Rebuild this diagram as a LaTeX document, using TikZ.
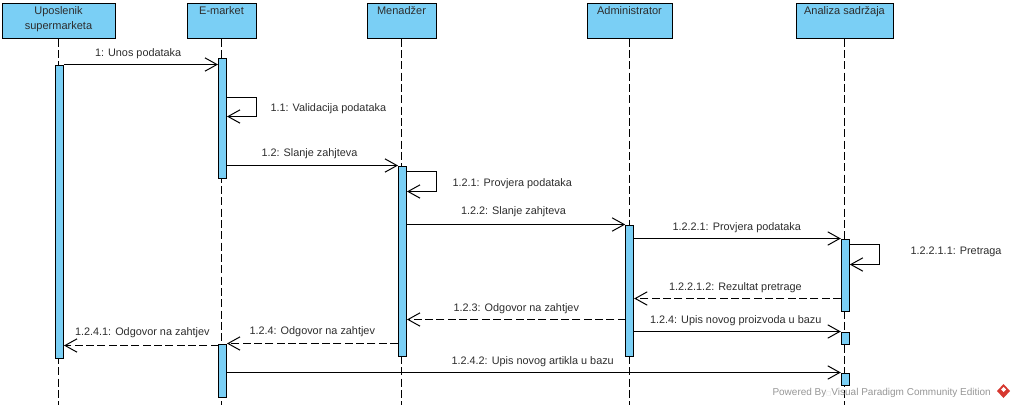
\documentclass[tikz,border=0pt]{standalone}
\usepackage{fontspec}
\setmainfont{Liberation Sans}
\newfontfamily\boxfont{DejaVu Sans}
\usetikzlibrary{arrows.meta}

\definecolor{barblue}{RGB}{122,207,245}
\definecolor{msgtext}{RGB}{45,45,45}
\definecolor{markgray}{RGB}{150,150,150}
\definecolor{markred}{RGB}{214,56,48}

\tikzset{every picture/.style={line width=0.75pt}}
\tikzset{
  actor/.style={draw,fill=barblue,anchor=north,align=center,minimum width=0.75*#1,
    minimum height=26.25pt,inner xsep=0pt,inner ysep=0pt,text height=8.75pt,text depth=17.5pt,
    font=\fontsize{8.25}{11.25}\selectfont,text=msgtext},
  twolines/.style={text height=20pt,text depth=6.25pt},
  bar/.style={draw,fill=barblue,anchor=north,minimum width=6pt,minimum height=0.75*#1,inner sep=0pt},
  msg/.style={-{Straight Barb[length=9pt,width=10pt]}},
  reply/.style={msg,dash pattern=on 6pt off 2.5pt},
  lifeline/.style={dash pattern=on 6pt off 2.5pt},
  msgtxt/.style={anchor=west,inner sep=0pt,font=\fontsize{8.15}{11.25}\selectfont,text=msgtext},
}

\begin{document}
\begin{tikzpicture}[x=0.75pt,y=0.75pt,yscale=-1,xscale=1]
\useasboundingbox (0,0) rectangle (1016,408);

% Actors
\draw (58.5,2.5) node [actor=113,twolines] (uposlenik) {Uposlenik\\supermarketa};
\draw (221.5,2.5) node [actor=69] (emarket) {E-market};
\draw (401.5,2.5) node [actor=69] (menadzer) {Menadžer};
\draw (629.5,2.5) node [actor=85] (administrator) {Administrator};
\draw (844.5,2.5) node [actor=97] (analiza) {Analiza sadržaja};

% Lifeline ends
\coordinate (endA) at (58.5,405);
\coordinate (endB) at (221.5,405);
\coordinate (endC) at (401.5,405);
\coordinate (endD) at (629.5,405);
\coordinate (endE) at (844.5,405);
\draw [lifeline] (uposlenik.south) -- (endA);
\draw [lifeline] (emarket.south) -- (endB);
\draw [lifeline] (menadzer.south) -- (endC);
\draw [lifeline] (administrator.south) -- (endD);
\draw [lifeline] (analiza.south) -- (endE);

% Activation bars
\draw (59.5,64.5) node [bar=293] (barA) {};
\draw (222.5,57.5) node [bar=120] (barB) {};
\draw (222.5,343.5) node [bar=53] (barBb) {};
\draw (402.5,165.5) node [bar=190] (barC) {};
\draw (629.7,224.5) node [bar=131] (barD) {};
\draw (845.3,238.5) node [bar=72] (barE) {};
\draw (845.3,331.5) node [bar=12] (barEb) {};
\draw (845.3,372.5) node [bar=12] (barEc) {};

% Self calls
\coordinate (loopBa) at (256.5,97.5);
\coordinate (loopBb) at (256.5,116.5);
\coordinate (loopCa) at (436.5,171.5);
\coordinate (loopCb) at (436.5,191.5);
\coordinate (loopEa) at (879.5,244.5);
\coordinate (loopEb) at (879.5,264.5);
\draw [msg] (barB.east |- loopBa) -- (loopBa) -- (loopBb) -- (barB.east |- loopBb);
\draw [msg] (barC.east |- loopCa) -- (loopCa) -- (loopCb) -- (barC.east |- loopCb);
\draw [msg] (barE.east |- loopEa) -- (loopEa) -- (loopEb) -- (barE.east |- loopEb);

% Messages
\draw [msg] (barA.north east) -- (barB.west |- barA.north);
\draw [msg] (barB.east |- barC.north) -- (barC.north west);
\draw [msg] (barC.east |- barD.north) -- (barD.north west);
\draw [msg] (barD.east |- barE.north) -- (barE.north west);
\draw [msg] (barD.east |- barEb.north) -- (barEb.north west);
\draw [msg] (barBb.east |- barEc.north) -- (barEc.north west);

% Replies
\coordinate (replyEd) at (841,298.5);
\coordinate (replyDc) at (625.7,319.5);
\coordinate (replyBa) at (218.5,345.5);
\draw [reply] (replyEd) -- (barD.east |- replyEd);
\draw [reply] (replyDc) -- (barC.east |- replyDc);
\draw [reply] (barC.west |- barBb.north) -- (barBb.north east);
\draw [reply] (replyBa) -- (barA.east |- replyBa);

% Text Node
\draw (94.5,54) node [msgtxt] (txtUnos) {1: Unos podataka};
\draw (270,109) node [msgtxt] (txtValidacija) {1.1: Validacija podataka};
\draw (261,154) node [msgtxt] (txtSlanje) {1.2: Slanje zahjteva};
\draw (452,184) node [msgtxt] (txtProvjera) {1.2.1: Provjera podataka};
\draw (460.5,212) node [msgtxt] (txtSlanjeb) {1.2.2: Slanje zahjteva};
\draw (672,228) node [msgtxt] (txtProvjerab) {1.2.2.1: Provjera podataka};
\draw (910,252) node [msgtxt] (txtPretraga) {1.2.2.1.1: Pretraga};
\draw (668.5,288) node [msgtxt] (txtRezultat) {1.2.2.1.2: Rezultat pretrage};
\draw (453,309) node [msgtxt] (txtOdgovor) {1.2.3: Odgovor na zahtjev};
\draw (649.5,321) node [msgtxt] (txtUpis) {1.2.4: Upis novog proizvoda u bazu};
\draw (249,332) node [msgtxt] (txtOdgovorb) {1.2.4: Odgovor na zahtjev};
\draw (74.5,333) node [msgtxt] (txtOdgovorc) {1.2.4.1: Odgovor na zahtjev};
\draw (451,362) node [msgtxt] (txtUpisb) {1.2.4.2: Upis novog artikla u bazu};

% Watermark
\draw (772,393) node [msgtxt,font=\fontsize{7.5}{9}\selectfont,text=markgray] (txtPowered) {Powered By{\boxfont\fontsize{4}{5}\selectfont\color{markgray!40}□}Visual Paradigm Community Edition};
\fill [markred] (1003.5,384) -- (1010,391) -- (1003.5,398) -- (997,391) -- cycle;
\fill [white] (1003.5,387) -- (1006,389.5) -- (1003.5,392) -- (1001,389.5) -- cycle;
\end{tikzpicture}
\end{document}
